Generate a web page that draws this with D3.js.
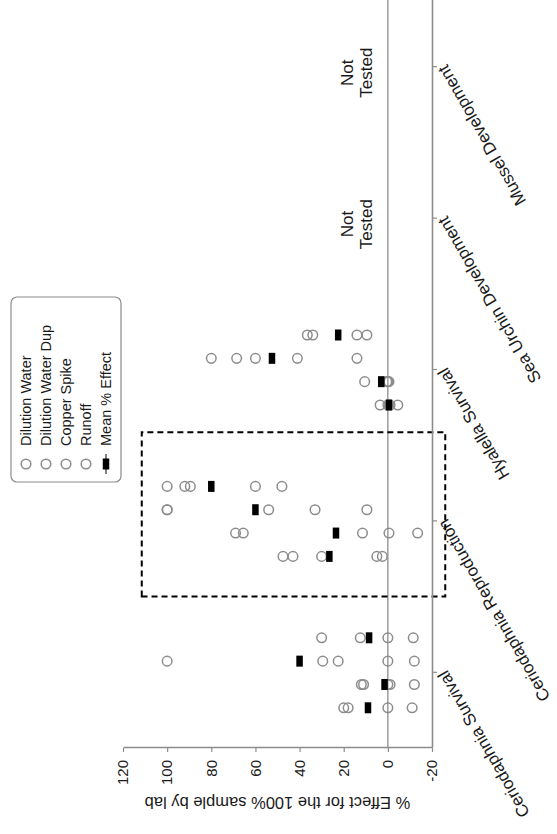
<!DOCTYPE html>
<html>
<head>
<meta charset="utf-8">
<script src="https://cdn.jsdelivr.net/npm/d3@7"></script>
<style>
body { margin: 0; background: #fff; }
svg { display: block; font-family: "Liberation Sans", Arial, sans-serif; }
</style>
</head>
<body>
<svg id="chart" width="557" height="834"></svg>
<script>
const tests = ["Ceriodaphnia Survival", "Ceriodaphnia Reproduction", "Hyalella Survival",
               "Sea Urchin Development", "Mussel Development"];
const sampleTypes = ["Dilution Water", "Dilution Water Dup", "Copper Spike", "Runoff"];
const valueTicks = [120, 100, 80, 60, 40, 20, 0, -20];
const notTested = ["Sea Urchin Development", "Mussel Development"];

// % effect per lab, one list per test (null = not tested)
const dilutionWater    = [[20, 18, 0, -11], [47.5, 43, 30, 5, 2.5], [3.5, 0, -1, -4.5], null, null];
const dilutionWaterDup = [[12, 11, 0, -1, -12], [69, 65.5, 11.5, -0.5, -13.5], [10.5, 0.5, 0, -0.5], null, null];
const copperSpike      = [[100, 29.5, 22.5, 0, -12], [100, 100, 54, 33, 9.5], [80, 68.5, 60, 41, 14], null, null];
const runoff           = [[30, 12.5, 0, -11.5], [100, 92, 89.5, 60, 48], [36.5, 34, 14, 9.5], null, null];
// mean % effect per test: DW, DW dup, copper, runoff
const meanEffect = [[9, 1.5, 40, 8.5], [26.5, 23.5, 60, 80], [-0.5, 3, 52.5, 22.5], null, null];

const W = 834;
const grey = "#8c8c8c";
const ink = "#1a1a1a";

// chart is drawn upright then turned a quarter left
let svg = d3.select("#chart");
let chart = svg.append("g").attr("transform", "translate(0," + W + ") rotate(-90)");

let x = d3.scaleBand().domain(tests).range([86, 843]);
let y = d3.scaleLinear().domain([-20, 120]).range([432, 123]);
let offset = d3.scalePoint().domain(sampleTypes).range([-35.5, 34.5]);
const cx = (t, s) => x(t) + x.bandwidth() / 2 + offset(s);

// zero line
chart.append("line")
    .attr("x1", 86).attr("x2", 843)
    .attr("y1", y(0)).attr("y2", y(0))
    .attr("stroke", grey).attr("stroke-width", 1.3);

// highlight box round the reproduction test
chart.append("rect")
    .attr("x", x(tests[1]))
    .attr("y", y(111.5))
    .attr("width", x(tests[2]) + 13 - x(tests[1]))
    .attr("height", y(-26) - y(111.5))
    .attr("fill", "none")
    .attr("stroke", "#000")
    .attr("stroke-width", 2)
    .attr("stroke-dasharray", "6,4");

// category axis
let x_axis = d3.axisBottom(x).tickSize(5).tickSizeOuter(0).tickFormat("");
let gx = chart.append("g").attr("transform", "translate(0," + y(-20) + ")").call(x_axis);
gx.select(".domain").attr("stroke", grey).attr("stroke-width", 1.6);
gx.selectAll(".tick line").attr("stroke", grey).attr("stroke-width", 1.2);

chart.selectAll(".cat")
    .data(tests)
    .enter().append("text")
    .attr("class", "cat")
    .attr("transform", d => "translate(" + (x(d) + x.bandwidth() / 2) + "," + (y(-20) + 10) + ") rotate(-30)")
    .attr("text-anchor", "end")
    .attr("dy", "0.35em")
    .attr("font-size", 17)
    .attr("fill", ink)
    .text(d => d);

// value axis
let y_axis = d3.axisLeft(y).tickValues(valueTicks).tickSize(4).tickPadding(8)
    .tickSizeOuter(0).tickFormat(d => String(d));
let gy = chart.append("g").attr("transform", "translate(86,0)").call(y_axis);
gy.attr("font-size", 15).attr("font-family", null);
gy.select(".domain").attr("stroke", grey).attr("stroke-width", 1.6);
gy.selectAll(".tick line").attr("stroke", grey).attr("stroke-width", 1.2);
gy.selectAll(".tick text").attr("fill", ink);

chart.append("text")
    .attr("transform", "translate(37," + (y(-20) + y(120)) / 2 + ") rotate(-90)")
    .attr("text-anchor", "middle")
    .attr("font-size", 16.5)
    .attr("fill", ink)
    .text("% Effect for the 100% sample by lab");

// lab results
let labSeries = [dilutionWater, dilutionWaterDup, copperSpike, runoff];
let points = [];
labSeries.forEach((s, si) => {
    s.forEach((vals, ti) => {
        if (!vals) return;
        vals.forEach(v => points.push({ test: tests[ti], sample: sampleTypes[si], value: v }));
    });
});
chart.selectAll(".lab")
    .data(points)
    .enter().append("circle")
    .attr("class", "lab")
    .attr("cx", d => cx(d.test, d.sample))
    .attr("cy", d => y(d.value))
    .attr("r", 4.8)
    .attr("fill", "none")
    .attr("stroke", grey)
    .attr("stroke-width", 1.5);

let means = [];
meanEffect.forEach((row, ti) => {
    if (!row) return;
    row.forEach((m, si) => means.push({ test: tests[ti], sample: sampleTypes[si], value: m }));
});
chart.selectAll(".mean")
    .data(means)
    .enter().append("rect")
    .attr("class", "mean")
    .attr("x", d => cx(d.test, d.sample) - 5.5)
    .attr("y", d => y(d.value) - 3.25)
    .attr("width", 11)
    .attr("height", 6.5)
    .attr("fill", "#000");

// not tested notes
let nt = chart.selectAll(".nt")
    .data(notTested)
    .enter().append("text")
    .attr("class", "nt")
    .attr("text-anchor", "middle")
    .attr("font-size", 17)
    .attr("fill", ink);
nt.append("tspan").attr("x", d => x(d) + x.bandwidth() / 2 - 6).attr("y", y(0) - 35).text("Not");
nt.append("tspan").attr("x", d => x(d) + x.bandwidth() / 2 - 6).attr("y", y(0) - 16).text("Tested");

// legend
let legendItems = sampleTypes.concat(["Mean % Effect"]);
let lg = chart.append("g").attr("transform", "translate(352,11)");
lg.append("rect")
    .attr("width", 185).attr("height", 110).attr("rx", 6)
    .attr("fill", "#fff").attr("stroke", grey).attr("stroke-width", 1.2);
let item = lg.selectAll(".item")
    .data(legendItems)
    .enter().append("g")
    .attr("transform", (d, i) => "translate(18," + (15 + i * 20) + ")");
item.filter((d, i) => i < 4).append("circle")
    .attr("r", 4.8).attr("fill", "none").attr("stroke", grey).attr("stroke-width", 1.5);
item.filter((d, i) => i === 4).append("line")
    .attr("x1", -10).attr("x2", 10).attr("stroke", "#000").attr("stroke-width", 1);
item.filter((d, i) => i === 4).append("rect")
    .attr("x", -5.5).attr("y", -3.25).attr("width", 11).attr("height", 6.5).attr("fill", "#000");
item.append("text")
    .attr("x", 18).attr("dy", "0.35em")
    .attr("font-size", 14.5).attr("fill", ink)
    .text(d => d);
</script>
</body>
</html>
